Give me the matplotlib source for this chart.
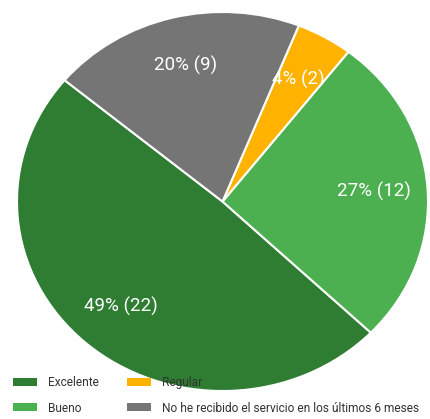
import numpy as np
import matplotlib as mpl
mpl.use('Agg')
import matplotlib.pyplot as plt
from matplotlib.patches import Patch

plt.rcParams['font.family'] = ['Roboto', 'DejaVu Sans']

labels = ['Excelente', 'Bueno', 'Regular', 'No he recibido el servicio en los últimos 6 meses']
counts = [22, 12, 2, 9]
colors = ['#2e7d32', '#4caf50', '#ffb300', '#757575']

total = sum(counts)

def fmt(pct):
    n = int(round(pct * total / 100.0))
    return f"{pct:.0f}% ({n})"

fig = plt.figure(figsize=(4.31, 4.19), dpi=100)
ax = fig.add_axes([17/431, 28/419, 411/431, 379/419])
wedges, texts, autotexts = ax.pie(counts, colors=colors, startangle=140.2,
                                  autopct=fmt, pctdistance=0.74,
                                  wedgeprops=dict(edgecolor='white', linewidth=1.5),
                                  textprops=dict(color='white', fontsize=13.5))
ax.set_aspect('auto')
ax.set_xlim(-1, 1)
ax.set_ylim(-1, 1)
ax.axis('off')

handles = [Patch(facecolor=c, edgecolor='none') for c in colors]
leg = fig.legend(handles, labels, ncol=2, loc='upper left',
                 bbox_to_anchor=(13/431, 1 - 376/419), frameon=False,
                 fontsize=8.6, handlelength=2.0, handleheight=0.65,
                 labelspacing=1.05, columnspacing=2.4, handletextpad=0.9,
                 borderaxespad=0, borderpad=0)
for t in leg.get_texts():
    t.set_color('#333333')

fig.savefig('out.png', dpi=100)
